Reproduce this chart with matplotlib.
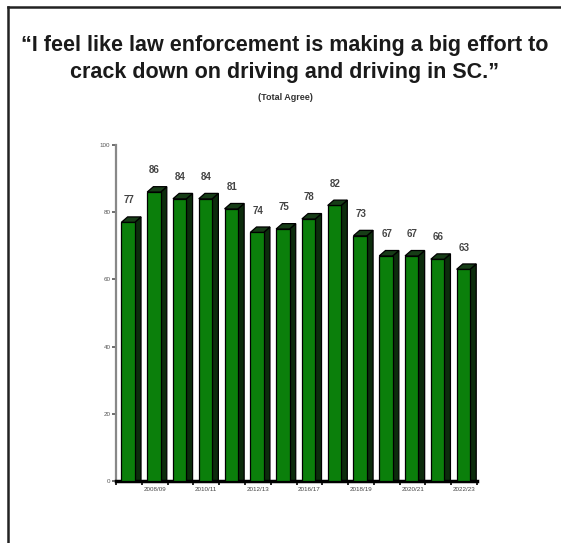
import matplotlib
matplotlib.use('Agg')
import matplotlib.pyplot as plt
from matplotlib.patches import Polygon
from matplotlib.lines import Line2D

values = [77, 86, 84, 84, 81, 74, 75, 78, 82, 73, 67, 67, 66, 63]
tick_labels = ['2008/09', '2010/11', '2012/13', '2016/17', '2018/19', '2020/21', '2022/23']
title = '\u201cI feel like law enforcement is making a big effort to\ncrack down on driving and driving in SC.\u201d'
subtitle = '(Total Agree)'

plt.rcParams['font.family'] = ['Liberation Sans', 'DejaVu Sans']

fig = plt.figure(figsize=(5.61, 5.43), dpi=100)
ax = fig.add_axes([116/561, 62/543, 361/561, 336/543])

x = list(range(len(values)))
w = 0.52      # front face width
dx = 0.24     # depth in x (bar units)
dy = 1.6      # depth in y (data units)
front = '#0b7f0b'
side = '#0c2c0c'
top = '#173d17'

for i, v in zip(x, values):
    left = i - 0.29
    right = left + w
    ax.bar(left, v, width=w, align='edge', color=front, edgecolor='black',
           linewidth=0.9, zorder=3)
    ax.add_patch(Polygon([(right, 0), (right + dx, 0), (right + dx, v + dy), (right, v)],
                         closed=True, facecolor=side, edgecolor='black', linewidth=0.9, zorder=2))
    ax.add_patch(Polygon([(left, v), (right, v), (right + dx, v + dy), (left + dx, v + dy)],
                         closed=True, facecolor=top, edgecolor='black', linewidth=0.9, zorder=4))
    ax.text(i, v + 5, str(v), ha='center', va='bottom', fontsize=7,
            fontweight='bold', color='#444444')

ax.set_xlim(-0.5, 13.5)
ax.set_ylim(0, 100)
ax.set_yticks([0, 20, 40, 60, 80, 100])
ax.tick_params(axis='y', labelsize=4.5, colors='#555555', length=3, width=1.2, pad=1)
ax.set_xticks(x[1::2])
ax.set_xticklabels(tick_labels, fontsize=4.5, color='#444444')
ax.tick_params(axis='x', length=0, pad=4)
ax.set_xticks([i + 0.5 for i in range(-1, 14)], minor=True)
ax.tick_params(axis='x', which='minor', length=3, width=1.2, color='black')

for s in ['top', 'right']:
    ax.spines[s].set_visible(False)
ax.spines['left'].set_color('#888888')
ax.spines['left'].set_linewidth(1.6)
ax.spines['bottom'].set_color('black')
ax.spines['bottom'].set_linewidth(2.5)

fig.text(0.508, 1 - 59/543, title, ha='center', va='center', fontsize=15.5,
         fontweight='bold', color='#1a1a1a', linespacing=1.32)
fig.text(0.508, 1 - 97/543, subtitle, ha='center', va='center', fontsize=6.5,
         fontweight='bold', color='#333333')

# frame around the slide
fig.add_artist(Line2D([8/561, 8/561], [0, 1 - 7/543], transform=fig.transFigure,
                      color='#222222', linewidth=1.8))
fig.add_artist(Line2D([8/561, 1], [1 - 7/543, 1 - 7/543], transform=fig.transFigure,
                      color='#222222', linewidth=1.8))

fig.savefig('out.png', dpi=100)
